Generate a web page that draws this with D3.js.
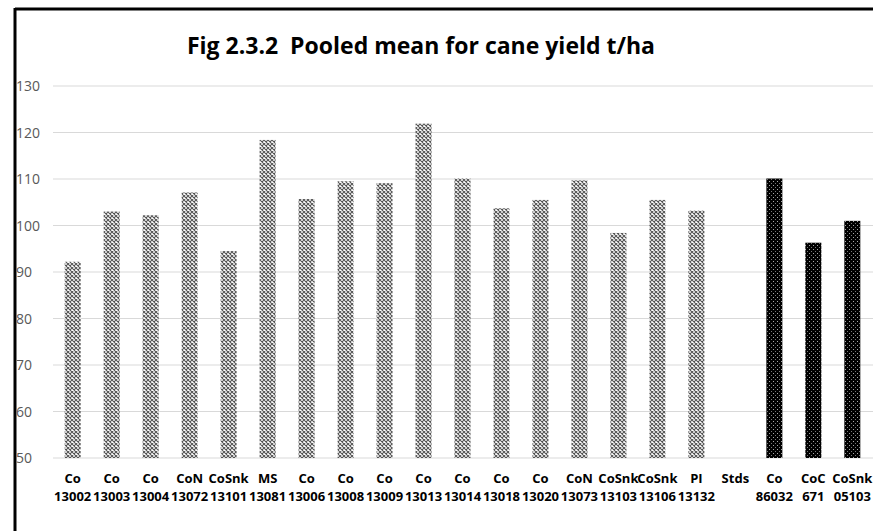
<!DOCTYPE html>
<html>
<head>
<meta charset="utf-8">
<script src="https://cdn.jsdelivr.net/npm/d3@7"></script>
<style>
  body { margin: 0; background: #fff; }
  svg { display: block; }
</style>
</head>
<body>
<script>
const WIDTH = 873, HEIGHT = 531;

// data
const codes = ["Co", "Co", "Co", "CoN", "CoSnk", "MS", "Co", "Co", "Co", "Co", "Co", "Co", "Co", "CoN", "CoSnk", "CoSnk", "PI", "Stds", "Co", "CoC", "CoSnk"];
const numbers = ["13002", "13003", "13004", "13072", "13101", "13081", "13006", "13008", "13009", "13013", "13014", "13018", "13020", "13073", "13103", "13106", "13132", "", "86032", "671", "05103"];
const yieldValues = [92.2, 103, 102.2, 107.1, 94.5, 118.4, 105.7, 109.5, 109.1, 121.9, 110.1, 103.7, 105.5, 109.7, 98.4, 105.5, 103.2, null, 110.1, 96.3, 101];
const isStandard = [false, false, false, false, false, false, false, false, false, false, false, false, false, false, false, false, false, false, true, true, true];
const yTicks = [50, 60, 70, 80, 90, 100, 110, 120, 130];

const rows = codes.map((c, i) => ({ key: i, code: c, num: numbers[i], v: yieldValues[i], std: isStandard[i] }));

const FONT = "'Open Sans', Lato, sans-serif";
const svg = d3.select("body").append("svg").attr("width", WIDTH).attr("height", HEIGHT);

// patterns
const defs = svg.append("defs");
const light = defs.append("pattern").attr("id", "light").attr("patternUnits", "userSpaceOnUse")
  .attr("width", 4).attr("height", 4);
light.append("rect").attr("width", 4).attr("height", 4).attr("fill", "#fff");
light.append("path").attr("d", "M0,0L4,4M4,0L0,4").attr("stroke", "#555").attr("stroke-width", 1.1);

const dark = defs.append("pattern").attr("id", "dark").attr("patternUnits", "userSpaceOnUse")
  .attr("width", 4).attr("height", 4);
dark.append("rect").attr("width", 4).attr("height", 4).attr("fill", "#000");
dark.append("rect").attr("x", 1).attr("y", 1).attr("width", 1).attr("height", 1).attr("fill", "#aaa");
dark.append("rect").attr("x", 3).attr("y", 3).attr("width", 1).attr("height", 1).attr("fill", "#777");

// frame
svg.append("line").attr("x1", 15).attr("x2", WIDTH).attr("y1", 9).attr("y2", 9)
  .attr("stroke", "#000").attr("stroke-width", 3);
svg.append("line").attr("x1", 15).attr("x2", 15).attr("y1", 8).attr("y2", HEIGHT)
  .attr("stroke", "#000").attr("stroke-width", 3);

const x = d3.scaleBand().domain(rows.map(d => d.key)).range([53, 872]).paddingInner(0.59).paddingOuter(0.3);
const y = d3.scaleLinear().domain([50, 130]).range([458, 86]);

// grid
svg.append("g").selectAll("line").data(yTicks).enter().append("line")
  .attr("x1", 53).attr("x2", WIDTH)
  .attr("y1", d => y(d)).attr("y2", d => y(d))
  .attr("stroke", "#d9d9d9").attr("stroke-width", 1);

// y labels
svg.append("g").selectAll("text").data(yTicks).enter().append("text")
  .attr("x", 16).attr("y", d => y(d) + 5)
  .attr("font-family", FONT).attr("font-size", 14).attr("fill", "#595959")
  .text(d => d);

// bars
svg.append("g").selectAll("rect").data(rows.filter(d => d.v != null)).enter().append("rect")
  .attr("x", d => x(d.key))
  .attr("y", d => y(d.v))
  .attr("width", x.bandwidth())
  .attr("height", d => y(50) - y(d.v))
  .attr("fill", d => d.std ? "url(#dark)" : "url(#light)");

// x labels
const xl = svg.append("g").selectAll("text").data(rows).enter().append("text")
  .attr("text-anchor", "middle")
  .attr("font-family", FONT).attr("font-weight", "bold")
  .attr("font-size", 13).attr("fill", "#000");
xl.append("tspan").attr("x", d => x(d.key) + x.bandwidth() / 2).attr("y", 483).text(d => d.code);
xl.append("tspan").attr("x", d => x(d.key) + x.bandwidth() / 2).attr("y", 501).text(d => d.num);

// title
svg.append("text").attr("x", 421).attr("y", 54).attr("text-anchor", "middle")
  .attr("font-family", FONT).attr("font-weight", "bold")
  .attr("font-size", 23).attr("fill", "#000")
  .attr("xml:space", "preserve")
  .text("Fig 2.3.2  Pooled mean for cane yield t/ha");
</script>
</body>
</html>
